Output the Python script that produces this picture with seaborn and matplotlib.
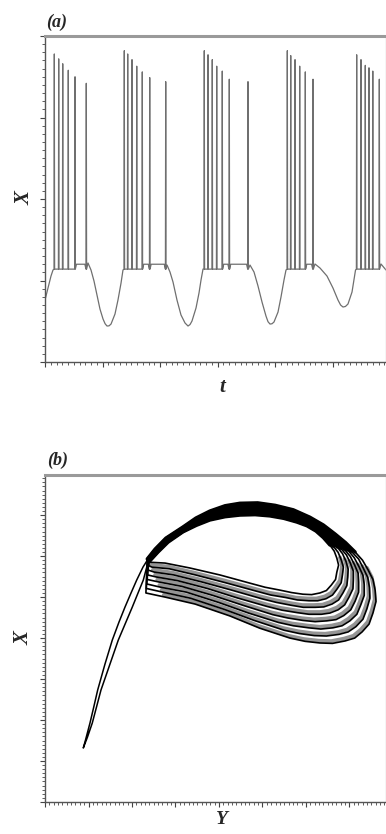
import matplotlib
matplotlib.use("Agg")
import matplotlib.pyplot as plt
import matplotlib.patheffects as pe
from matplotlib.ticker import MultipleLocator
import pandas as pd
import seaborn as sns

# ---------------- panel (a): X(t) time series ----------------
start_t = [0.0, 3.5, 7.0, 10.4, 13.9]
start_X = [-1.239, -1.141, -1.043, -0.945, -0.871]

burst1_t = [16.2, 23.8, 30.8, 40.5, 52.2, 71.8]
burst1_X = [1.78, 1.72, 1.66, 1.58, 1.50, 1.42]
burst2_t = [137.9, 143.8, 151.3, 159.5, 169.2, 182.1, 209.9]
burst2_X = [1.82, 1.78, 1.71, 1.63, 1.56, 1.49, 1.44]
burst3_t = [277.0, 283.5, 290.9, 298.6, 308.3, 320.5, 353.0]
burst3_X = [1.82, 1.77, 1.71, 1.63, 1.57, 1.47, 1.44]
burst4_t = [421.4, 427.3, 434.8, 442.9, 452.7, 466.1]
burst4_X = [1.82, 1.76, 1.71, 1.63, 1.56, 1.47]
burst5_t = [542.0, 549.5, 557.0, 563.4, 570.0, 581.4]
burst5_X = [1.77, 1.71, 1.64, 1.61, 1.57, 1.47]

slow1_t = [74.8, 80.0, 85.2, 90.4, 95.6, 100.9, 104.5, 107.8, 111.3, 114.8, 121.7, 126.9, 132.2, 135.6]
slow1_X = [-0.785, -0.871, -1.006, -1.178, -1.350, -1.472, -1.530, -1.558, -1.556, -1.534, -1.411, -1.239, -1.031, -0.871]
slow2_t = [212.2, 217.4, 222.6, 229.5, 236.5, 243.5, 248.7, 252.2, 255.6, 262.6, 267.8, 271.3, 274.8]
slow2_X = [-0.810, -0.896, -1.018, -1.239, -1.423, -1.521, -1.558, -1.540, -1.497, -1.337, -1.153, -0.994, -0.859]
slow3_t = [356.5, 363.5, 370.4, 377.4, 384.3, 387.8, 391.3, 394.8, 398.2, 405.2, 410.4, 415.6, 419.1]
slow3_X = [-0.810, -0.896, -1.067, -1.264, -1.436, -1.505, -1.534, -1.530, -1.509, -1.387, -1.202, -0.994, -0.871]
slow4_t = [469.5, 478.3, 490.4, 500.8, 509.5, 514.0, 518.2, 522.5, 526.9, 533.9, 537.3, 540.0]
slow4_X = [-0.797, -0.847, -0.945, -1.092, -1.239, -1.300, -1.325, -1.318, -1.288, -1.141, -0.994, -0.871]
slow5_t = [584.3, 593.0]
slow5_X = [-0.797, -0.871]

spike_base = -0.86
plateau_level = -0.80

# ---------------- panel (b): X vs Y phase portrait ----------------
loop0_Y = [24.1, 26.0, 28.3, 31.7, 34.8, 37.9, 41.4, 44.8, 48.3, 51.7, 54.9, 57.9, 60.2, 62.3, 64.0, 65.5, 66.5, 67.1, 67.5, 67.1, 66.8, 65.8, 64.7, 63.2, 61.3, 59.3, 56.7, 54.0, 50.6, 47.1, 40.2, 33.3, 27.6, 24.1, 23.9]
loop0_X = [58.8, 61.0, 63.4, 65.9, 67.5, 68.8, 69.6, 70.0, 70.1, 69.8, 69.2, 68.3, 67.4, 66.1, 64.5, 62.7, 61.2, 59.5, 57.8, 56.1, 54.3, 52.9, 51.6, 51.0, 50.6, 50.7, 51.1, 51.7, 52.4, 53.4, 55.4, 57.1, 58.3, 58.5, 58.8]
loop1_Y = [24.0, 25.9, 28.2, 31.7, 34.8, 37.9, 41.4, 44.8, 48.4, 51.9, 55.2, 58.4, 60.8, 62.9, 64.7, 66.3, 67.4, 68.1, 68.6, 68.4, 68.1, 67.1, 66.1, 64.6, 62.7, 60.7, 58.0, 55.3, 51.9, 48.4, 41.5, 34.6, 28.6, 24.6, 23.8]
loop1_X = [58.9, 61.1, 63.6, 66.0, 67.8, 69.1, 70.0, 70.4, 70.5, 70.1, 69.5, 68.5, 67.4, 66.0, 64.3, 62.4, 60.9, 59.1, 57.3, 55.5, 53.5, 51.9, 50.5, 49.6, 49.1, 49.1, 49.3, 49.9, 50.5, 51.5, 53.5, 55.4, 56.9, 57.3, 57.7]
loop2_Y = [23.9, 25.8, 28.1, 31.7, 34.7, 37.9, 41.4, 44.8, 48.4, 52.0, 55.5, 58.8, 61.3, 63.5, 65.5, 67.2, 68.4, 69.2, 69.7, 69.6, 69.4, 68.5, 67.5, 66.0, 64.1, 62.1, 59.4, 56.6, 53.2, 49.8, 42.9, 36.0, 29.6, 25.1, 23.7]
loop2_X = [58.9, 61.2, 63.7, 66.2, 68.0, 69.4, 70.4, 70.8, 70.9, 70.5, 69.8, 68.6, 67.4, 65.9, 64.2, 62.2, 60.6, 58.7, 56.8, 54.8, 52.8, 51.0, 49.3, 48.3, 47.6, 47.5, 47.5, 48.0, 48.7, 49.6, 51.7, 53.7, 55.4, 56.1, 56.6]
loop3_Y = [23.8, 25.7, 28.1, 31.7, 34.7, 37.9, 41.4, 44.8, 48.5, 52.2, 55.8, 59.2, 61.8, 64.2, 66.2, 68.0, 69.3, 70.2, 70.9, 70.9, 70.8, 69.9, 68.9, 67.4, 65.5, 63.5, 60.7, 58.0, 54.5, 51.1, 44.2, 37.3, 30.5, 25.6, 23.6]
loop3_X = [59.0, 61.3, 63.8, 66.4, 68.3, 69.7, 70.8, 71.3, 71.3, 70.9, 70.1, 68.8, 67.5, 65.8, 64.0, 61.9, 60.3, 58.3, 56.3, 54.2, 52.0, 50.0, 48.1, 46.9, 46.1, 45.8, 45.8, 46.2, 46.8, 47.7, 49.8, 52.1, 54.0, 54.9, 55.4]
loop4_Y = [23.7, 25.6, 28.0, 31.7, 34.7, 37.9, 41.4, 44.8, 48.6, 52.4, 56.1, 59.6, 62.4, 64.8, 66.9, 68.8, 70.2, 71.2, 72.0, 72.1, 72.1, 71.3, 70.3, 68.7, 66.9, 64.8, 62.1, 59.3, 55.8, 52.4, 45.5, 38.6, 31.5, 26.1, 23.5]
loop4_X = [59.1, 61.4, 64.0, 66.6, 68.5, 70.0, 71.1, 71.7, 71.7, 71.3, 70.4, 69.0, 67.5, 65.7, 63.8, 61.7, 59.9, 57.8, 55.8, 53.6, 51.2, 49.0, 46.9, 45.5, 44.5, 44.2, 44.0, 44.3, 44.9, 45.7, 48.0, 50.4, 52.6, 53.7, 54.3]
loop5_Y = [23.6, 25.5, 28.0, 31.7, 34.7, 37.9, 41.4, 44.8, 48.7, 52.5, 56.4, 60.1, 62.9, 65.4, 67.6, 69.6, 71.1, 72.2, 73.1, 73.4, 73.4, 72.6, 71.7, 70.1, 68.3, 66.2, 63.4, 60.6, 57.1, 53.7, 46.8, 39.9, 32.5, 26.6, 23.4]
loop5_X = [59.1, 61.5, 64.1, 66.7, 68.8, 70.3, 71.5, 72.1, 72.1, 71.7, 70.7, 69.2, 67.5, 65.6, 63.7, 61.5, 59.6, 57.4, 55.3, 53.0, 50.4, 48.1, 45.8, 44.2, 43.0, 42.5, 42.2, 42.5, 43.0, 43.8, 46.1, 48.7, 51.2, 52.4, 53.2]
loop6_Y = [23.6, 25.4, 27.9, 31.7, 34.7, 37.9, 41.4, 44.8, 48.8, 52.7, 56.8, 60.5, 63.4, 66.0, 68.4, 70.4, 72.1, 73.2, 74.2, 74.6, 74.7, 74.0, 73.1, 71.5, 69.7, 67.6, 64.7, 61.9, 58.5, 55.0, 48.1, 41.2, 33.5, 27.1, 23.3]
loop6_X = [59.2, 61.6, 64.3, 66.9, 69.0, 70.7, 71.9, 72.5, 72.6, 72.1, 71.0, 69.3, 67.6, 65.5, 63.5, 61.2, 59.3, 57.0, 54.8, 52.3, 49.7, 47.1, 44.6, 42.8, 41.5, 40.9, 40.5, 40.6, 41.1, 41.9, 44.3, 47.0, 49.7, 51.2, 52.1]
loop7_Y = [23.5, 25.3, 27.8, 31.7, 34.7, 37.9, 41.4, 44.8, 48.9, 52.9, 57.1, 60.9, 64.0, 66.7, 69.1, 71.3, 73.0, 74.3, 75.4, 75.9, 76.1, 75.4, 74.5, 72.9, 71.2, 69.0, 66.1, 63.2, 59.8, 56.3, 49.4, 42.5, 34.5, 27.6, 23.2]
loop7_X = [59.3, 61.7, 64.4, 67.1, 69.3, 71.0, 72.3, 72.9, 73.0, 72.4, 71.3, 69.5, 67.6, 65.4, 63.3, 61.0, 59.0, 56.6, 54.3, 51.7, 48.9, 46.1, 43.4, 41.5, 40.0, 39.3, 38.7, 38.8, 39.2, 40.0, 42.4, 45.4, 48.3, 50.0, 51.0]

tail_Y = [23.45, 22.60, 21.38, 20.07, 18.51, 16.85, 14.94, 12.87, 11.84, 10.87, 9.77, 8.80,
          9.31, 10.34, 11.26, 12.11, 13.79, 15.47, 17.01, 18.39, 19.77, 21.08, 22.53, 23.68]
tail_X = [57.56, 54.15, 50.98, 47.56, 43.66, 39.51, 33.66, 27.32, 23.17, 19.27, 15.85, 13.17,
          15.12, 19.27, 23.41, 27.32, 33.66, 39.51, 43.90, 47.56, 50.98, 54.15, 57.32, 59.27]

# ---------------- build tables ----------------
bursts = [(burst1_t, burst1_X), (burst2_t, burst2_X), (burst3_t, burst3_X),
          (burst4_t, burst4_X), (burst5_t, burst5_X)]
slows = [(slow1_t, slow1_X), (slow2_t, slow2_X), (slow3_t, slow3_X),
         (slow4_t, slow4_X), (slow5_t, slow5_X)]
t_all, X_all = list(start_t), list(start_X)
for (bt, bx), (st, sx) in zip(bursts, slows):
    for j, (tp, xp) in enumerate(zip(bt, bx)):
        t_all += [tp - 0.5, tp, tp + 0.5]
        X_all += [spike_base, xp, spike_base]
        if j + 1 < len(bt) and bt[j + 1] - tp > 12:
            t_all += [tp + 2.5, bt[j + 1] - 2.5]
            X_all += [plateau_level, plateau_level]
    t_all += st
    X_all += sx
df_a = pd.DataFrame({"t": t_all, "X": X_all})

loops_Y = [loop0_Y, loop1_Y, loop2_Y, loop3_Y, loop4_Y, loop5_Y, loop6_Y, loop7_Y]
loops_X = [loop0_X, loop1_X, loop2_X, loop3_X, loop4_X, loop5_X, loop6_X, loop7_X]
ARC_END, RET_START, RET_END = 15, 17, 33
rows, arc_rows, shade_rows = [], [], []
for i, (ly, lx) in enumerate(zip(loops_Y, loops_X)):
    ys, xs = ly + [ly[0]], lx + [lx[0]]
    for j, (a, b) in enumerate(zip(ys, xs)):
        rows.append((i, j, a, b))
        if j <= ARC_END:
            arc_rows.append((i, j, a, b))
        if i > 0 and RET_START <= j <= RET_END:
            shade_rows.append((i, j, a, b))
cols = ["loop", "order", "Y", "X"]
df_loops = pd.DataFrame(rows, columns=cols)
df_arc = pd.DataFrame(arc_rows, columns=cols)
df_shade = pd.DataFrame(shade_rows, columns=cols)
df_tail = pd.DataFrame({"Y": tail_Y, "X": tail_X})

# ---------------- figure ----------------
sns.set_style("white")
plt.rcParams["font.family"] = ["Liberation Serif", "DejaVu Serif"]
lab = dict(family="Liberation Serif", weight="bold", style="italic", size=15)
lab_y = dict(family="Liberation Serif", weight="bold", style="italic", size=14)
pan = dict(family="Liberation Serif", weight="bold", style="italic", size=13)

fig = plt.figure(figsize=(3.86, 8.34), dpi=100)
ax_a = fig.add_axes([0.1166, 0.5659, 0.8834, 0.3909])
ax_b = fig.add_axes([0.1166, 0.0384, 0.8834, 0.3921])

sns.lineplot(data=df_a, x="t", y="X", sort=False, estimator=None,
             color="#6f6f6f", linewidth=0.9, ax=ax_a)
ax_a.set_xlim(0, 593)
ax_a.set_ylim(-2, 2)
ax_a.xaxis.set_major_locator(MultipleLocator(100))
ax_a.xaxis.set_minor_locator(MultipleLocator(10))
ax_a.yaxis.set_major_locator(MultipleLocator(1))
ax_a.yaxis.set_minor_locator(MultipleLocator(0.1))

n0 = len(ax_b.lines)
sns.lineplot(data=df_shade, x="Y", y="X", units="loop", estimator=None, sort=False,
             color="#999999", linewidth=0.5, ax=ax_b)
for ln in ax_b.lines[n0:]:
    ln.set_path_effects([pe.SimpleLineShadow(offset=(-0.9, 1.6), shadow_color="#949494",
                                             alpha=1.0, linewidth=2.8)])
sns.lineplot(data=df_arc, x="Y", y="X", units="loop", estimator=None, sort=False,
             color="black", linewidth=2.4, ax=ax_b)
sns.lineplot(data=df_loops, x="Y", y="X", units="loop", estimator=None, sort=False,
             color="black", linewidth=1.2, ax=ax_b)
sns.lineplot(data=df_tail, x="Y", y="X", estimator=None, sort=False,
             color="black", linewidth=1.1, ax=ax_b)
for ln in ax_b.lines:
    ln.set_solid_joinstyle("round")
    ln.set_solid_capstyle("round")
ax_b.set_xlim(0, 78.4)
ax_b.set_ylim(0, 79.8)
for axis in (ax_b.xaxis, ax_b.yaxis):
    axis.set_major_locator(MultipleLocator(10))
    axis.set_minor_locator(MultipleLocator(1))

for ax in (ax_a, ax_b):
    ax.tick_params(which="both", direction="out", labelbottom=False, labelleft=False,
                   bottom=True, left=True, top=False, right=False, colors="#444444")
    ax.tick_params(which="major", length=3.6, width=0.8)
    ax.tick_params(which="minor", length=2.2, width=0.6)
    ax.spines["top"].set_color("#9a9a9a")
    ax.spines["top"].set_linewidth(2.2)
    ax.spines["right"].set_color("#d0d0d0")
    ax.spines["right"].set_linewidth(1.0)
    for s in ("left", "bottom"):
        ax.spines[s].set_color("#555555")
        ax.spines[s].set_linewidth(1.0)

ax_a.set_xlabel("t", fontdict=lab)
ax_a.set_ylabel("X", fontdict=lab)
ax_b.set_xlabel("Y", fontdict=lab_y)
ax_b.set_ylabel("X", fontdict=lab)
ax_a.xaxis.set_label_coords(0.519, -0.045)
ax_a.yaxis.set_label_coords(-0.03, 0.503)
ax_b.xaxis.set_label_coords(0.519, -0.028)
ax_b.yaxis.set_label_coords(-0.035, 0.50)

ax_a.text(0.035, 1.043, "(a)", transform=ax_a.transAxes, ha="center", va="center", fontdict=pan)
ax_b.text(0.038, 1.046, "(b)", transform=ax_b.transAxes, ha="center", va="center", fontdict=pan)

fig.savefig("out.png", dpi=100)
